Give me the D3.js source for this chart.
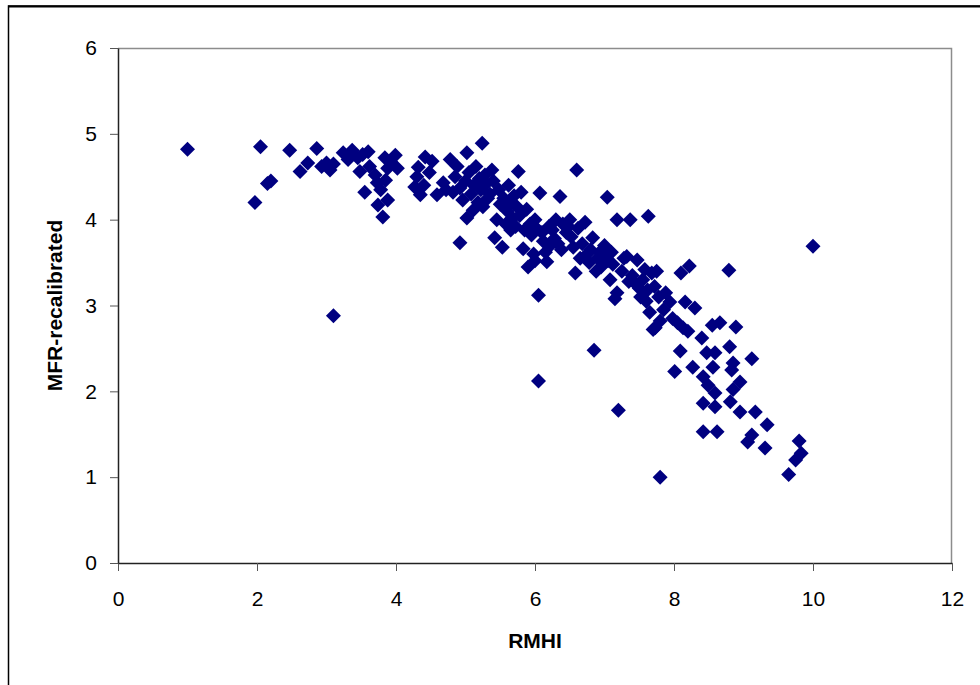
<!DOCTYPE html>
<html>
<head>
<meta charset="utf-8">
<script src="https://cdn.jsdelivr.net/npm/d3@7"></script>
<style>
  body { margin: 0; background: #fff; }
  svg { display: block; font-family: Arial, "Liberation Sans", sans-serif; }
</style>
</head>
<body>
<div id="chart"></div>
<script>
const rmhi = [
  1.00, 1.97, 2.05, 2.15, 2.20, 2.47, 2.62, 2.73, 2.86, 2.93, 3.00, 3.05, 3.10, 3.10,
  3.24, 3.31, 3.37, 3.45, 3.48, 3.52, 3.55, 3.60, 3.62, 3.70, 3.73, 3.74, 3.78, 3.81,
  3.84, 3.85, 3.88, 3.88, 3.92, 3.99, 4.02,
  4.27, 4.30, 4.32, 4.35, 4.40, 4.42, 4.48, 4.52,
  4.59, 4.68, 4.72, 4.78, 4.82, 4.85, 4.88, 4.92, 4.92, 4.96, 5.00, 5.02, 5.02, 5.05,
  5.08, 5.11, 5.12, 5.15, 5.18, 5.20, 5.22, 5.24, 5.25, 5.28, 5.30, 5.32, 5.35, 5.38,
  5.40, 5.42, 5.45, 5.48, 5.50, 5.53, 5.55, 5.58, 5.60, 5.62, 5.65, 5.66, 5.68, 5.70,
  5.72, 5.74, 5.76, 5.78, 5.80, 5.83, 5.85, 5.88, 5.90, 5.93, 5.95, 5.98, 6.00, 6.00,
  6.02, 6.05, 6.05, 6.07, 6.10, 6.12, 6.15, 6.17, 6.20, 6.22, 6.25, 6.28, 6.30, 6.33,
  6.36, 6.38, 6.40, 6.45, 6.48, 6.50, 6.52, 6.55, 6.58, 6.60, 6.62, 6.65, 6.68, 6.72,
  6.75, 6.78, 6.80, 6.83, 6.85, 6.88, 6.90, 6.93, 6.95, 6.98, 7.00, 7.04, 7.05, 7.08,
  7.10, 7.12, 7.15, 7.18, 7.18, 7.20, 7.25, 7.28, 7.32, 7.35, 7.37, 7.40, 7.45, 7.47,
  7.50, 7.52, 7.55, 7.58, 7.60, 7.62, 7.63, 7.65, 7.68, 7.70, 7.72, 7.73, 7.75, 7.78,
  7.80, 7.80, 7.85, 7.88, 7.94, 7.98, 8.01, 8.05, 8.09, 8.10, 8.13, 8.16, 8.20, 8.22,
  8.27, 8.30, 8.40, 8.42, 8.42, 8.42, 8.47, 8.49, 8.55, 8.56, 8.59, 8.59, 8.59, 8.62,
  8.66, 8.79, 8.80, 8.81, 8.83, 8.85, 8.85, 8.89, 8.95, 8.95, 9.06, 9.12, 9.12, 9.17,
  9.31, 9.34, 9.65, 9.75, 9.80, 9.83, 10.00
];

const mfr = [
  4.82, 4.20, 4.85, 4.42, 4.45, 4.81, 4.56, 4.66, 4.83, 4.62, 4.66, 4.58, 4.65, 2.88,
  4.78, 4.70, 4.81, 4.72, 4.56, 4.76, 4.32, 4.79, 4.62, 4.52, 4.43, 4.17, 4.35, 4.03,
  4.72, 4.46, 4.60, 4.23, 4.68, 4.75, 4.60,
  4.38, 4.50, 4.61, 4.29, 4.40, 4.73, 4.55, 4.68,
  4.29, 4.43, 4.35, 4.70, 4.32, 4.50, 4.62, 4.37, 3.73, 4.23, 4.45, 4.78, 4.02, 4.55,
  4.30, 4.11, 4.40, 4.62, 4.20, 4.48, 4.35, 4.89, 4.15, 4.52, 4.42, 4.25, 4.30, 4.58,
  4.45, 3.79, 4.00, 4.35, 4.18, 3.68, 4.25, 3.95, 4.10, 4.40, 3.88, 4.20, 4.02, 4.28,
  3.92, 4.15, 4.56, 4.05, 4.32, 3.66, 3.88, 4.12, 3.45, 3.95, 3.82, 3.60, 3.52, 4.00,
  3.90, 3.12, 2.12, 4.31, 3.85, 3.75, 3.62, 3.51, 3.92, 3.70, 3.88, 3.78, 4.00, 3.72,
  4.27, 3.65, 3.95, 3.85, 3.92, 4.00, 3.80, 3.68, 3.38, 4.58, 3.90, 3.55, 3.72, 3.97,
  3.60, 3.50, 3.65, 3.79, 2.48, 3.40, 3.55, 3.62, 3.45, 3.58, 3.70, 4.26, 3.52, 3.30,
  3.62, 3.48, 3.08, 4.00, 3.15, 1.78, 3.40, 3.55, 3.57, 3.28, 4.00, 3.35, 3.25, 3.53,
  3.20, 3.10, 3.30, 3.42, 3.05, 3.18, 4.04, 2.92, 3.38, 2.72, 3.22, 2.74, 3.40, 3.10,
  1.00, 2.82, 2.95, 3.15, 3.04, 2.85, 2.23, 2.80, 2.47, 3.38, 2.74, 3.04, 2.70, 3.46,
  2.28, 2.97, 2.62, 2.17, 1.86, 1.53, 2.45, 2.07, 2.77, 2.28, 2.45, 1.98, 1.82, 1.53,
  2.80, 3.41, 2.52, 1.88, 2.25, 2.33, 2.02, 2.75, 2.11, 1.76, 1.41, 2.38, 1.49, 1.76,
  1.34, 1.61, 1.03, 1.20, 1.42, 1.28, 3.69
];

const xTicks = [0, 2, 4, 6, 8, 10, 12];
const yTicks = [0, 1, 2, 3, 4, 5, 6];

const points = rmhi.map((x, i) => ({ x, y: mfr[i] }));

const width = 980;
const height = 685;
const plot = { left: 118, top: 48, right: 952, bottom: 563 };

const svg = d3.select('#chart')
  .append('svg')
  .attr('width', width)
  .attr('height', height);

// outer chart frame (runs off the right and bottom of the window)
svg.append('rect')
  .attr('x', 8.5)
  .attr('y', 6)
  .attr('width', 1000)
  .attr('height', 720)
  .attr('fill', '#fff')
  .attr('stroke', '#000')
  .attr('stroke-width', 1.5);
svg.append('line')
  .attr('x1', 8).attr('x2', width)
  .attr('y1', 6.5).attr('y2', 6.5)
  .attr('stroke', '#000')
  .attr('stroke-width', 2);

const xScale = d3.scaleLinear()
  .domain([0, 12])
  .range([plot.left, plot.right]);

const yScale = d3.scaleLinear()
  .domain([0, 6])
  .range([plot.bottom, plot.top]);

// plot area border: grey on top and right
svg.append('path')
  .attr('d', `M${plot.left},${plot.top + 0.5}H${plot.right - 0.5}V${plot.bottom}`)
  .attr('fill', 'none')
  .attr('stroke', '#8c8c8c')
  .attr('stroke-width', 1.5);

const xAxis = svg.append('g')
  .attr('transform', `translate(0,${plot.bottom})`)
  .call(d3.axisBottom(xScale).tickValues(xTicks).tickFormat(d3.format('d'))
    .tickSize(8).tickPadding(20).tickSizeOuter(0));

const yAxis = svg.append('g')
  .attr('transform', `translate(${plot.left},0)`)
  .call(d3.axisLeft(yScale).tickValues(yTicks).tickFormat(d3.format('d'))
    .tickSize(8).tickPadding(13).tickSizeOuter(0));

[xAxis, yAxis].forEach(ax => {
  ax.select('.domain').attr('stroke', '#222').attr('stroke-width', 1.5);
  ax.selectAll('.tick line').attr('stroke', '#555').attr('stroke-width', 1);
  ax.selectAll('.tick text')
    .attr('fill', '#000')
    .attr('font-size', '21px')
    .attr('font-family', 'Arial, "Liberation Sans", sans-serif');
});

const diamond = 'M0,-7.5L7.5,0L0,7.5L-7.5,0Z';

svg.append('g')
  .selectAll('path')
  .data(points)
  .enter()
  .append('path')
  .attr('d', diamond)
  .attr('transform', d => `translate(${xScale(d.x)},${yScale(d.y)})`)
  .attr('fill', '#000080');

svg.append('text')
  .attr('x', (plot.left + plot.right) / 2)
  .attr('y', 648)
  .attr('text-anchor', 'middle')
  .attr('font-size', '21px')
  .attr('font-weight', 'bold')
  .text('RMHI');

svg.append('text')
  .attr('transform', 'rotate(-90)')
  .attr('x', -(plot.top + plot.bottom) / 2)
  .attr('y', 62)
  .attr('text-anchor', 'middle')
  .attr('font-size', '21px')
  .attr('font-weight', 'bold')
  .text('MFR-recalibrated');
</script>
</body>
</html>
